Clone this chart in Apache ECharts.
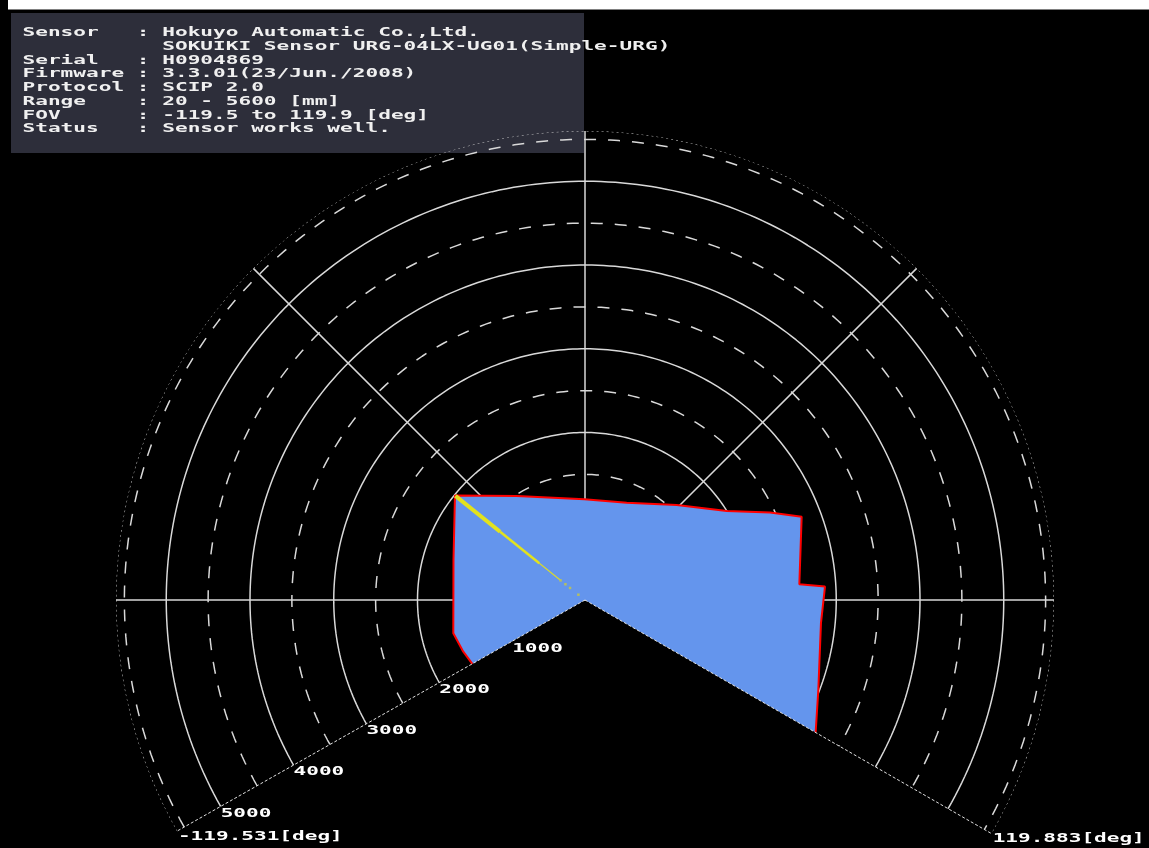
<!DOCTYPE html>
<html><head><meta charset="utf-8">
<script src="https://cdn.jsdelivr.net/npm/echarts@6/dist/echarts.min.js"></script>
<style>html,body{margin:0;padding:0;background:#000;}#c{width:1149px;height:848px;}</style>
</head><body><div id="c"></div>
<script>
// ---- data ----
const FOV_MIN = -119.531, FOV_MAX = 119.883;
const RANGE_MAX = 5600;
const solidRings = [1000, 2000, 3000, 4000, 5000];
const dashedRings = [500, 1500, 2500, 3500, 4500, 5500];
const outerRing = [5600];
const spokeAngles = [-90, -45, 0, 45, 90];
const ringLabelValues = [1000, 2000, 3000, 4000, 5000];
const fovLabels = ['-119.531[deg]', '119.883[deg]'];
// scan boundary (angle deg, 0 = front/up, + = right ; range mm)
const scanAngles = [-119.531, -113.0, -104.2, -73.1, -51.2, -33.3, -0.4, 23.2, 44.0, 57.9, 64.7, 69.0, 77.0, 85.8, 86.8, 95.6, 111.1, 119.883];
const scanRanges = [1546, 1579, 1622, 1641, 1992, 1486, 1202, 1264, 1576, 1998, 2443, 2771, 2641, 2566, 2870, 2831, 2986, 3176];
// yellow echo trace
const yellowAngle = -51.2;
const yellowThick = [1300, 1985];
const yellowMid = [700, 1300];
const yellowThin = [380, 700];
const yellowDots = [101, 229, 300, 374];
// info panel
const infoLabels = ['Sensor', '', 'Serial', 'Firmware', 'Protocol', 'Range', 'FOV', 'Status'];
const infoValues = ['Hokuyo Automatic Co.,Ltd.', 'SOKUIKI Sensor URG-04LX-UG01(Simple-URG)', 'H0904869', '3.3.01(23/Jun./2008)', 'SCIP 2.0', '20 - 5600 [mm]', '-119.5 to 119.9 [deg]', 'Sensor works well.'];

// ---- build ----
const FONT = 'bold 13px "DejaVu Sans Mono"';
const SX = 1.62;
function arc(r) {
  const pts = [], n = 240;
  for (let i = 0; i <= n; i++) pts.push([r, FOV_MIN + (FOV_MAX - FOV_MIN) * i / n]);
  return pts;
}
const series = [];
function lineSeries(data, style, z) {
  series.push({ type: 'line', coordinateSystem: 'polar', data: data, symbol: 'none', showSymbol: false,
    lineStyle: style, silent: true, z: z, animation: false, clip: false });
}
solidRings.forEach(r => lineSeries(arc(r), { color: '#d9d9d9', width: 1.5 }, 1));
dashedRings.forEach(r => lineSeries(arc(r), { color: '#d9d9d9', width: 1.5, type: [12, 12] }, 1));
outerRing.forEach(r => lineSeries(arc(r), { color: '#d9d9d9', width: 1, type: [2, 3] }, 1));
spokeAngles.forEach(a => lineSeries([[0, a], [RANGE_MAX, a]], { color: '#d9d9d9', width: 1.5 }, 1));

// blue filled scan area
series.push({
  type: 'custom', coordinateSystem: 'polar', data: [[0, 0]], z: 2, silent: true, animation: false,
  renderItem: function (params, api) {
    const pts = [api.coord([0, 0])];
    for (let i = 0; i < scanAngles.length; i++) pts.push(api.coord([scanRanges[i], scanAngles[i]]));
    return { type: 'polygon', shape: { points: pts }, style: { fill: '#6495ed', stroke: null } };
  }
});
// red outline
lineSeries(scanAngles.map((a, i) => [scanRanges[i], a]), { color: '#ff0000', width: 2 }, 3);
// FOV limit lines
[FOV_MIN, FOV_MAX].forEach(a => lineSeries([[0, a], [RANGE_MAX, a]], { color: '#e0e0e0', width: 1, type: [3, 2] }, 4));
// yellow trace
lineSeries([[yellowThick[0], yellowAngle], [yellowThick[1], yellowAngle]], { color: '#e2e21e', width: 4 }, 5);
lineSeries([[yellowMid[0], yellowAngle], [yellowMid[1], yellowAngle]], { color: '#e2e21e', width: 2.5 }, 5);
lineSeries([[yellowThin[0], yellowAngle], [yellowThin[1], yellowAngle]], { color: '#d8d830', width: 1.2 }, 5);
series.push({ type: 'scatter', coordinateSystem: 'polar', data: yellowDots.map(r => [r, yellowAngle]),
  symbol: 'rect', symbolSize: 2.5, itemStyle: { color: '#c8c840' }, z: 5, silent: true, animation: false });

// ring labels along left FOV line
series.push({
  type: 'custom', coordinateSystem: 'polar', data: ringLabelValues.map(v => [v, FOV_MIN]), z: 6, silent: true, animation: false,
  renderItem: function (params, api) {
    const p = api.coord([api.value(0), api.value(1)]);
    return { type: 'text', x: p[0], y: p[1] + 7, scaleX: SX,
      style: { text: String(api.value(0)), font: FONT, fill: '#ffffff', align: 'left', verticalAlign: 'middle' } };
  }
});
// FOV labels at outer ends
series.push({
  type: 'custom', coordinateSystem: 'polar', data: [[RANGE_MAX, FOV_MIN], [RANGE_MAX, FOV_MAX]], z: 6, silent: true, animation: false,
  renderItem: function (params, api) {
    const p = api.coord([api.value(0), api.value(1)]);
    return { type: 'text', x: p[0] + 1, y: p[1] + 5, scaleX: SX,
      style: { text: fovLabels[params.dataIndex], font: FONT, fill: '#ffffff', align: 'left', verticalAlign: 'middle' } };
  }
});

// info panel
const infoChildren = [{ type: 'rect', shape: { x: 0, y: 0, width: 573, height: 140 }, style: { fill: '#2d2e3a' } }];
infoLabels.forEach((lab, i) => {
  const line = lab ? lab.padEnd(9) + ': ' + infoValues[i] : ' '.repeat(11) + infoValues[i];
  infoChildren.push({ type: 'text', x: 11.5, y: 20 + i * 13.7, scaleX: 1.623,
    style: { text: line, font: FONT, fill: '#f0f0f0', align: 'left', verticalAlign: 'middle' } });
});

const chart = echarts.init(document.getElementById('c'), null, { renderer: 'canvas' });
chart.setOption({
  backgroundColor: '#000000',
  animation: false,
  polar: { center: [585, 600], radius: 469 },
  angleAxis: { type: 'value', min: -180, max: 180, startAngle: 270, clockwise: true,
    axisLine: { show: false }, axisTick: { show: false }, axisLabel: { show: false }, splitLine: { show: false } },
  radiusAxis: { type: 'value', min: 0, max: RANGE_MAX,
    axisLine: { show: false }, axisTick: { show: false }, axisLabel: { show: false }, splitLine: { show: false } },
  graphic: [
    { type: 'rect', left: 8, top: 0, shape: { width: 1141, height: 9.5 }, style: { fill: '#ffffff' }, z: 0 },
    { type: 'group', left: 11, top: 13, children: infoChildren, z: 10 }
  ],
  series: series
});
</script></body></html>
